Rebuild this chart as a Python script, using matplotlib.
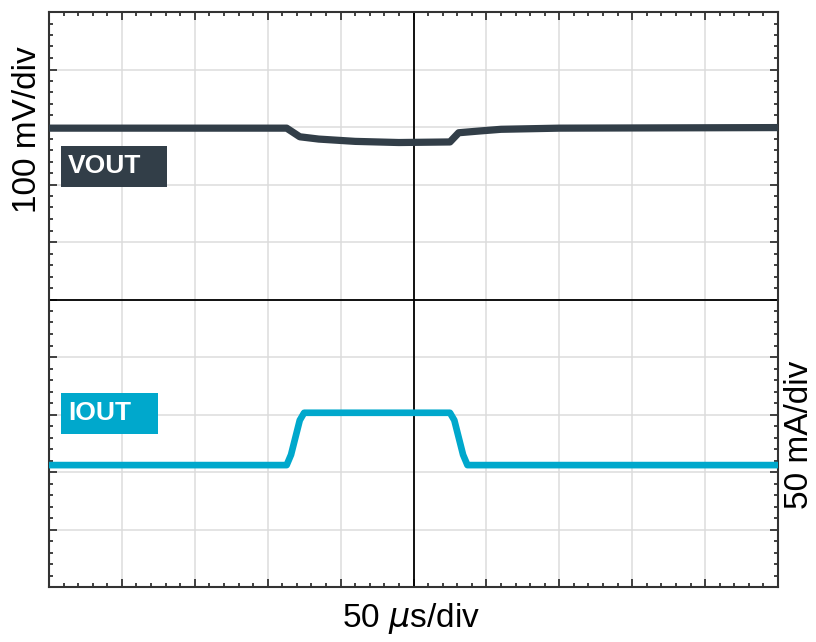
import matplotlib
matplotlib.use('Agg')
import matplotlib.pyplot as plt
from matplotlib.patches import Rectangle
from matplotlib.ticker import MultipleLocator

plt.rcParams['font.family'] = ['Liberation Sans', 'DejaVu Sans']

# scope traces, in divisions (10 x 10 screen)
vout_t = [0, 3.26, 3.44, 3.7, 4.2, 4.8, 5.5, 5.56, 5.62, 5.9, 6.2, 7.0, 10]
vout_v = [7.98, 7.98, 7.83, 7.79, 7.75, 7.73, 7.74, 7.82, 7.9, 7.93, 7.96, 7.98, 7.99]

iout_t = [0, 3.26, 3.32, 3.44, 3.50, 5.50, 5.56, 5.68, 5.74, 10]
iout_v = [2.12, 2.12, 2.3, 2.9, 3.03, 3.03, 2.9, 2.3, 2.12, 2.12]

vout_color = '#323e48'
iout_color = '#00a8cc'

fig = plt.figure(figsize=(8.16, 6.42), dpi=100)
ax = fig.add_axes([49/816, 55/642, 729/816, 575/642])

ax.set_xlim(0, 10)
ax.set_ylim(0, 10)

ax.xaxis.set_major_locator(MultipleLocator(1))
ax.xaxis.set_minor_locator(MultipleLocator(0.2))
ax.yaxis.set_major_locator(MultipleLocator(1))
ax.yaxis.set_minor_locator(MultipleLocator(0.2))
ax.tick_params(which='both', direction='in', top=True, right=True,
               labelbottom=False, labelleft=False, color='#333333', width=1.3)
ax.tick_params(which='major', length=6)
ax.tick_params(which='minor', length=3)
ax.grid(True, which='major', color='#dcdcdc', linewidth=1.1)
ax.axvline(5, color='black', linewidth=1.3, zorder=2)
ax.axhline(5, color='black', linewidth=1.3, zorder=2)
for s in ax.spines.values():
    s.set_color('#333333')
    s.set_linewidth(1.5)

ax.plot(vout_t, vout_v, color=vout_color, linewidth=5.2, solid_joinstyle='round', zorder=3)
ax.plot(iout_t, iout_v, color=iout_color, linewidth=4.8, solid_joinstyle='round', zorder=3)

ax.add_patch(Rectangle((0.165, 6.96), 1.46, 0.71, facecolor=vout_color, edgecolor='none', zorder=4))
ax.text(0.26, 7.33, 'VOUT', color='white', fontsize=19, fontweight='bold', va='center', ha='left', zorder=5)
ax.add_patch(Rectangle((0.165, 2.66), 1.33, 0.71, facecolor=iout_color, edgecolor='none', zorder=4))
ax.text(0.27, 3.03, 'IOUT', color='white', fontsize=19, fontweight='bold', va='center', ha='left', zorder=5)

fig.text(28/816, 1 - 130/642, '100 mV/div', rotation=90, fontsize=24, ha='center', va='center')
fig.text(800/816, 1 - 435/642, '50 mA/div', rotation=90, fontsize=24, ha='center', va='center')
fig.text(411/816, 1 - 618/642, r'50 $\mu$s/div', fontsize=24, ha='center', va='center')

fig.savefig('out.png', dpi=100)
